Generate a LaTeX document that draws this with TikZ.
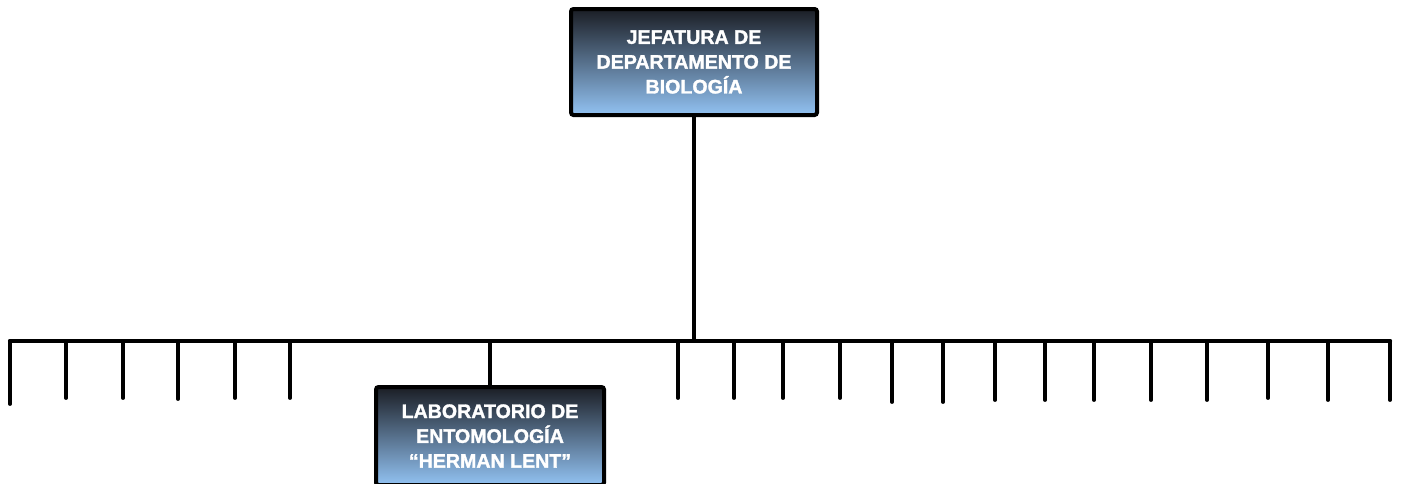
\documentclass[tikz,border=0pt]{standalone}
\usepackage{fontspec}
\setmainfont{Liberation Sans}[BoldFeatures={FakeBold=1.6}]
\definecolor{boxtop}{HTML}{1B1E25}
\definecolor{boxbot}{HTML}{92C2F2}
\tikzset{
  orgbox/.style={draw=black, line width=4pt, rounded corners=2.5pt,
    top color=boxtop, bottom color=boxbot, text=white,
    font=\bfseries\fontsize{19.6}{24.8}\selectfont, align=center,
    inner sep=0pt},
  conn/.style={line width=4.2pt, line cap=round},
  tick/.style={line width=3.8pt, line cap=round}
}
\begin{document}
\begin{tikzpicture}[x=1pt,y=-1pt]
\clip (0,0) rectangle (1403,483);
\fill[white] (0,0) rectangle (1403,483);
\node[orgbox, minimum width=246pt, minimum height=106pt] (jefe) at (694,62)
  {JEFATURA DE\\DEPARTAMENTO DE\\BIOLOGÍA};
\node[orgbox, minimum width=228pt, minimum height=98pt] (lab) at (490,436)
  {LABORATORIO DE\\ENTOMOLOGÍA\\“HERMAN LENT”};
\coordinate (barL) at (10,341);
\coordinate (barR) at (1390,341);
\coordinate (barJ) at (694,341);
\draw[conn] (barL) -- (barR);
\draw[conn, line cap=butt] (jefe.south) -- (barJ);
\draw[conn, line cap=butt] (lab.north |- barL) -- (lab.north);
\foreach \x/\y [count=\i] in {10/404, 66/398, 123/398, 178/399, 235/398, 290/398,
  678/398, 734/398, 783/398, 840/398, 892/402, 943/402, 995/400, 1045/400,
  1094/400, 1151/400, 1207/400, 1268/398, 1328/400, 1390/400}{
  \coordinate (t\i) at (\x,341);
  \coordinate (e\i) at (\x,\y);
  \draw[tick] (t\i) -- (e\i);
}
\end{tikzpicture}
\end{document}
